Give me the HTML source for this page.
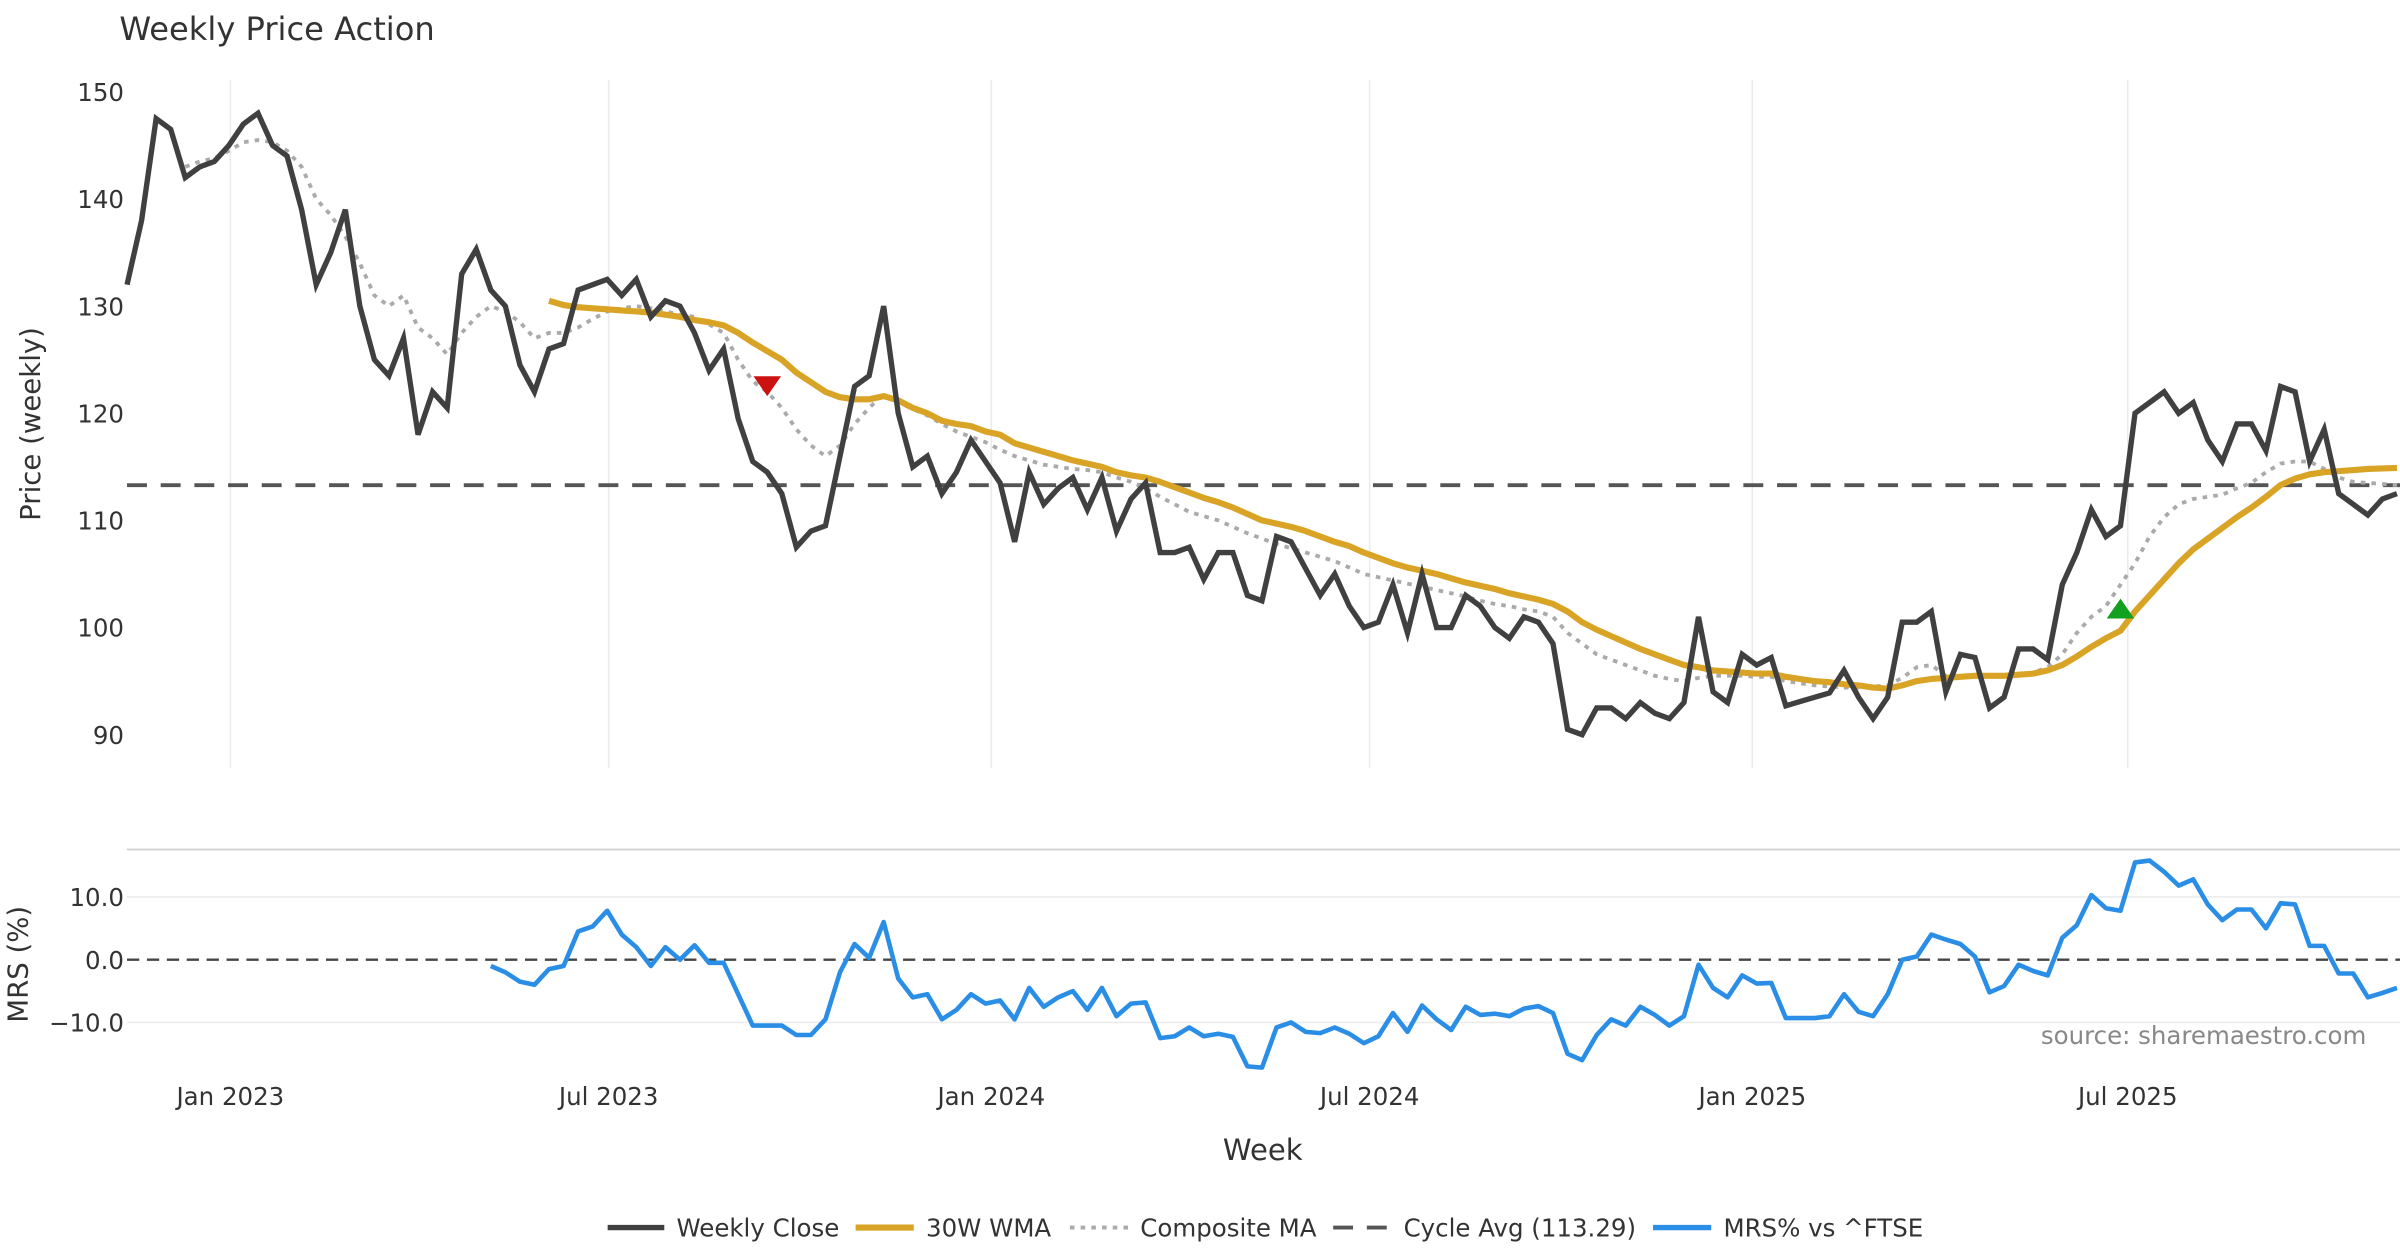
<!DOCTYPE html>
<html><head><meta charset="utf-8"><style>
html,body{margin:0;padding:0;background:#fff;}
svg{display:block;font-family:"DejaVu Sans","Liberation Sans",sans-serif;}
</style></head><body>
<svg id="chart" width="2400" height="1260" viewBox="0 0 1568 823.2" xmlns="http://www.w3.org/2000/svg">
<text x="78" y="26" font-size="21" fill="#333">Weekly Price Action</text>
<g id="price-panel"></g>
<g id="mrs-panel"></g>
<text transform="translate(26,277) rotate(-90)" text-anchor="middle" font-size="18" fill="#333">Price (weekly)</text>
<text transform="translate(18,630) rotate(-90)" text-anchor="middle" font-size="18" fill="#333">MRS (%)</text>
<text x="825" y="758" text-anchor="middle" font-size="19" fill="#333">Week</text>
<text x="1546" y="682" text-anchor="end" font-size="16" fill="#888">source: sharemaestro.com</text>
<g font-size="16" fill="#333">
<g><line x1="397" y1="802" x2="434" y2="802" stroke="#404040" stroke-width="3.5"/><text x="442" y="808">Weekly Close</text></g>
<g><line x1="559" y1="802" x2="597" y2="802" stroke="#d9a426" stroke-width="4"/><text x="605" y="808">30W WMA</text></g>
<g><line x1="699" y1="802" x2="737" y2="802" stroke="#aaa" stroke-width="2.5" stroke-dasharray="3,4"/><text x="745" y="808">Composite MA</text></g>
<g><line x1="871" y1="802" x2="909" y2="802" stroke="#555" stroke-width="2.5" stroke-dasharray="13,9"/><text x="917" y="808">Cycle Avg (113.29)</text></g>
<g><line x1="1080" y1="802" x2="1118" y2="802" stroke="#2a8ee6" stroke-width="3.5"/><text x="1126" y="808">MRS% vs ^FTSE</text></g>
</g>
</svg>
<script>
const closeVals=[132,138,147.5,146.5,142,143,143.5,145,147,148,
145,144,139,132,135,139,130,125,123.5,127,
118,122,120.5,133,135.3,131.5,130,124.5,122,126,
126.5,131.5,132,132.5,131,132.5,129,130.5,130,127.5,
124,126,119.5,115.5,114.5,112.5,107.5,109,109.5,116,
122.5,123.5,130,120,115,116,112.5,114.5,117.5,115.5,
113.5,108,114.5,111.5,113,114,111,114,109,112,
113.5,107,107,107.5,104.5,107,107,103,102.5,108.5,
108,105.5,103,105,102,100,100.5,104,99.5,105,
100,100,103,102,100,99,101,100.5,98.5,90.5,
90,92.5,92.5,91.5,93,92,91.5,93,101,94,
93,97.5,96.5,97.2,92.7,93.1,93.5,93.9,96,93.5,
91.5,93.5,100.5,100.5,101.5,94,97.5,97.2,92.5,93.5,
98,98,97,104,107,111,108.5,109.5,120,121,
122,120,121,117.5,115.5,119,119,116.5,122.5,122,
115.5,118.5,112.5,111.5,110.5,112,112.5];
const wmaStart=29;
const wmaVals=[130.5,130.1,129.9,129.8,129.7,129.6,129.5,129.4,129.2,129.0,128.7,
128.5,128.2,127.5,126.6,125.8,125.0,123.8,122.9,122.0,121.5,
121.3,121.3,121.6,121.2,120.5,120.0,119.3,119.0,118.8,118.3,
118.0,117.2,116.8,116.4,116.0,115.6,115.3,115.0,114.5,114.2,
114.0,113.6,113.1,112.6,112.1,111.7,111.2,110.6,110.0,109.7,
109.4,109.0,108.5,108.0,107.6,107.0,106.5,106.0,105.6,105.3,
105.0,104.6,104.2,103.9,103.6,103.2,102.9,102.6,102.2,101.5,
100.5,99.8,99.2,98.6,98.0,97.5,97.0,96.5,96.3,96.0,
95.9,95.8,95.7,95.7,95.4,95.2,95.0,94.9,94.7,94.6,
94.4,94.3,94.6,95.0,95.2,95.3,95.4,95.5,95.5,95.5,
95.6,95.7,96.0,96.5,97.3,98.2,99.0,99.7,101.5,103.0,
104.5,106.0,107.3,108.3,109.3,110.3,111.2,112.2,113.3,113.9,
114.3,114.5,114.6,114.7,114.8,114.85,114.9];
const compStart=4;
const compVals=[143,143.5,143.8,144.5,145.3,145.5,
145.3,144.5,143,140,138.5,136.5,134,131,130,131,
128,127,125.5,127.5,129,130,129.5,128.5,127,127.5,
127.5,128,128.8,129.5,129.8,130,129.8,129.5,129.2,129,
128.3,127.5,125,123,122,120.5,118.5,117,116,117,
119,120.5,121.8,121,120.4,119.8,119,118.3,117.8,117.3,
116.6,116,115.6,115.2,115,114.8,114.7,114.5,114,113.6,
113,112.2,111.5,110.8,110.4,110,109.4,108.8,108.3,107.8,
107.4,107,106.6,106.2,105.6,105,104.7,104.4,104.1,103.8,
103.5,103.2,102.9,102.5,102.2,102,101.7,101.5,101,99.5,
98.5,97.5,97,96.5,96,95.5,95.2,95,95.3,95.5,
95.5,95.5,95.4,95.4,95,94.8,94.6,94.5,94.4,94.4,
94.5,94.6,95.3,96.3,96.5,95.5,95.5,95.5,95.5,95.5,
95.6,95.8,96.3,97.5,99.5,101,102,104,106,108.5,
110.3,111.5,112,112.2,112.4,113,113.5,114.5,115.3,115.5,
115.5,114.8,114,113.6,113.5,113.4,113.3];
const mrsStart=25;
const mrsVals=[-1,-2,-3.5,-4,-1.5,
-1,4.5,5.3,7.8,4,2,-1,2,0,2.3,
-0.5,-0.5,-5.5,-10.5,-10.5,-10.5,-12,-12,-9.5,-2,
2.5,0.3,6,-3,-6,-5.5,-9.5,-8,-5.5,-7,
-6.5,-9.5,-4.5,-7.5,-6,-5,-8,-4.5,-9,-7,
-6.8,-12.5,-12.2,-10.8,-12.2,-11.8,-12.3,-17,-17.2,-10.8,
-10,-11.5,-11.7,-10.8,-11.8,-13.3,-12.2,-8.5,-11.5,-7.3,
-9.5,-11.2,-7.5,-8.8,-8.6,-9,-7.8,-7.4,-8.5,-15,
-16,-12,-9.5,-10.5,-7.5,-8.8,-10.5,-9,-0.8,-4.5,
-6,-2.5,-3.8,-3.7,-9.3,-9.3,-9.3,-9,-5.5,-8.3,
-9,-5.5,0,0.5,4,3.2,2.5,0.5,-5.2,-4.2,
-0.8,-1.8,-2.5,3.5,5.5,10.3,8.2,7.8,15.5,15.8,
14,11.8,12.8,8.8,6.3,8,8,5,9,8.8,
2.2,2.2,-2.2,-2.2,-6,-5.3,-4.5];
const cycleAvg=113.29;
const priceTicks=[90,100,110,120,130,140,150];
const mrsTicks=[-10,0,10];
const mrsTickLabels=["\u221210.0","0.0","10.0"];
const dateTickWeeks=[7.1,33.1,59.4,85.4,111.7,137.5];
const dateTickLabels=["Jan 2023","Jul 2023","Jan 2024","Jul 2024","Jan 2025","Jul 2025"];
const sellSignalWeek=44, sellSignalPrice=122.6;
const buySignalWeek=137, buySignalPrice=101.7;

const NS="http://www.w3.org/2000/svg";
const X0=83,X1=1566;
function xs(i){return X0+(X1-X0)*i/(closeVals.length-1);}
function yp(v){return 60+(150-v)*7;}
function ym(v){return 627-v*4.1;}
function mk(tag,attrs,parent){const e=document.createElementNS(NS,tag);for(const k in attrs)e.setAttribute(k,attrs[k]);parent.appendChild(e);return e;}
const pp=document.getElementById('price-panel');
const mp=document.getElementById('mrs-panel');
const svgRoot=document.getElementById('chart');

dateTickWeeks.forEach((w,k)=>{
  let g=mk('line',{x1:xs(w),x2:xs(w),y1:52,y2:502,stroke:'#ebebeb','stroke-width':1},pp);
  
  
  let t=mk('text',{x:xs(w),y:722,'text-anchor':'middle','font-size':16,fill:'#333'},svgRoot);
  t.textContent=dateTickLabels[k];
  
  
});
priceTicks.forEach(v=>{
  let t=mk('text',{x:81,y:yp(v)+6,'text-anchor':'end','font-size':16,fill:'#333'},pp);
  t.textContent=v;
  
  
});
let caLine=mk('line',{x1:X0,x2:1568,y1:yp(cycleAvg),y2:yp(cycleAvg),stroke:'#555','stroke-width':2.5,'stroke-dasharray':'13,9'},pp);



function path(vals,start,fy){let d='';vals.forEach((v,j)=>{d+=(j?'L':'M')+xs(start+j).toFixed(2)+','+fy(v).toFixed(2);});return d;}
let cmLine=mk('path',{d:path(compVals,compStart,yp),fill:'none',stroke:'#aaa','stroke-width':2.5,'stroke-dasharray':'3,4'},pp);


let wmaLine=mk('path',{d:path(wmaVals,wmaStart,yp),fill:'none',stroke:'#d9a426','stroke-width':4,'stroke-linejoin':'round'},pp);


let closeLine=mk('path',{d:path(closeVals,0,yp),fill:'none',stroke:'#404040','stroke-width':3.5,'stroke-linejoin':'miter'},pp);


(function(){const x=xs(sellSignalWeek),y=yp(sellSignalPrice);
let s=mk('path',{d:`M${x-9},${y-6}L${x+9},${y-6}L${x},${y+7}Z`,fill:'#cc1111'},pp);

})();
(function(){const x=xs(buySignalWeek),y=yp(buySignalPrice);
let s=mk('path',{d:`M${x-9},${y+6}L${x+9},${y+6}L${x},${y-7}Z`,fill:'#11a020'},pp);

})();

let mrsBorder=mk('line',{x1:X0,x2:1568,y1:555,y2:555,stroke:'#cfcfcf','stroke-width':1.2},mp);


mrsTicks.forEach((v,k)=>{
  if(v!==0){let g=mk('line',{x1:X0,x2:1568,y1:ym(v),y2:ym(v),stroke:'#ececec','stroke-width':1},mp);
  
  }
  let t=mk('text',{x:81,y:ym(v)+6,'text-anchor':'end','font-size':16,fill:'#333'},mp);
  t.textContent=mrsTickLabels[k];
  
  
});
let zeroLine=mk('line',{x1:X0,x2:1568,y1:ym(0),y2:ym(0),stroke:'#444','stroke-width':1.5,'stroke-dasharray':'8,5'},mp);


let mrsLine=mk('path',{d:path(mrsVals,mrsStart,ym),fill:'none',stroke:'#2a8ee6','stroke-width':3,'stroke-linejoin':'round'},mp);


</script>
</body></html>
